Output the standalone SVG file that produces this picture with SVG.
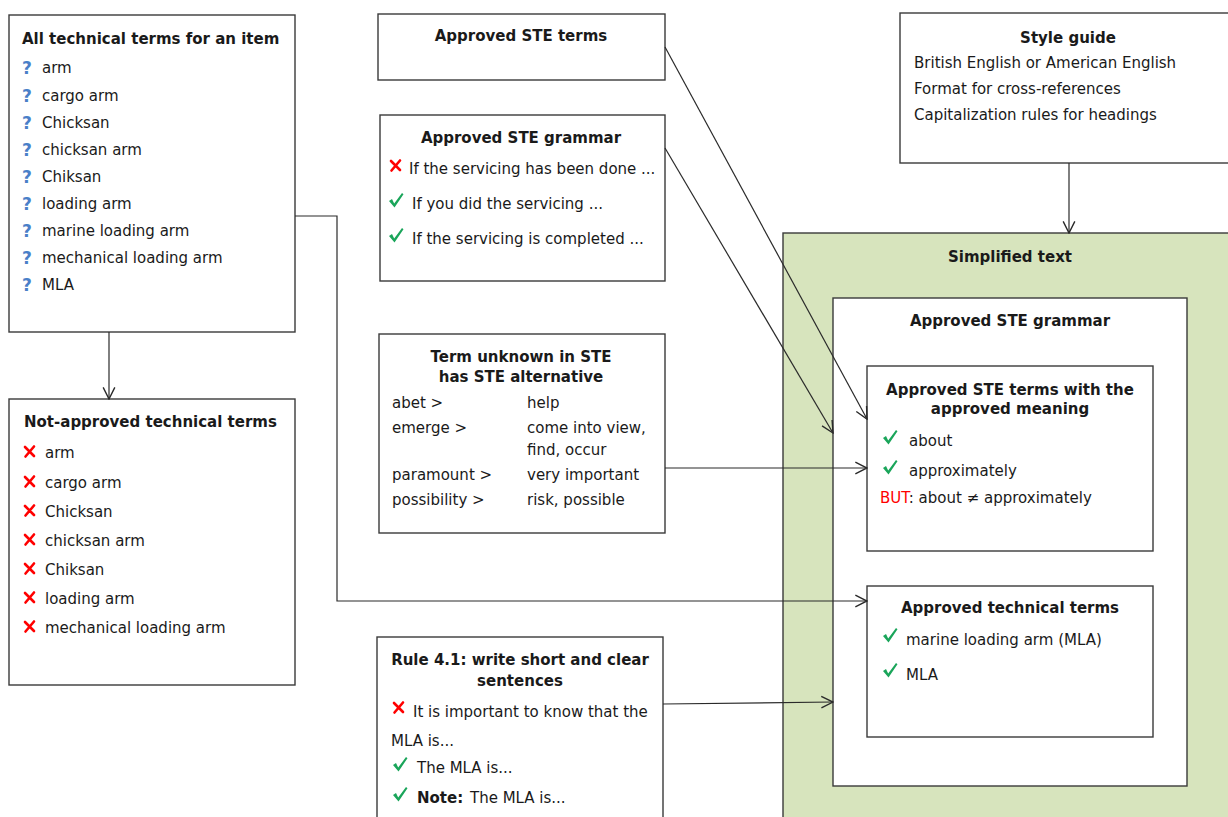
<svg xmlns="http://www.w3.org/2000/svg" xmlns:xlink="http://www.w3.org/1999/xlink" width="1228" height="817" viewBox="0 0 1228 817">
<style>
  .box { fill: #ffffff; stroke: #3a3a3a; stroke-width: 1.4; }
  .green { fill: #d7e4bd; stroke: #3a3a3a; stroke-width: 1.4; }
  text { font-family: "DejaVu Sans", Verdana, sans-serif; font-size: 15px; fill: #1a1a1a; }
  .b { font-weight: bold; }
  .c { text-anchor: middle; }
  .q { font-weight: bold; fill: #4a7fc8; font-size: 17px; }
  .red { fill: #ff0000; }
  .conn { fill: none; stroke: #2a2a2a; stroke-width: 1.2; }
</style>
<defs>
  <marker id="arr" markerUnits="userSpaceOnUse" markerWidth="14" markerHeight="14" viewBox="0 0 12 12" refX="11" refY="6" orient="auto">
    <path d="M1,1 L11,6 L1,11" fill="none" stroke="#2a2a2a" stroke-width="1.2"/>
  </marker>
  <g id="chk">
    <path d="M0,8 L3,6 L5.2,10.5 L13,0 L14.5,1.2 L5.5,14.5 Z" fill="#1aa55a"/>
  </g>
  <g id="crs">
    <path d="M1,1 L10,10 M10,0.5 L1.5,10.5" stroke="#ff0000" stroke-width="2.6" stroke-linecap="round" fill="none"/>
  </g>
</defs>

<g id="simplified">
  <rect class="green" x="783" y="233" width="460" height="600"/>
  <text class="b c" x="1010" y="262">Simplified text</text>
</g>
<g id="grammar-inner">
  <rect class="box" x="833" y="298" width="354" height="488"/>
  <text class="b c" x="1010" y="326">Approved STE grammar</text>
</g>
<g id="terms-meaning">
  <rect class="box" x="867" y="366" width="286" height="185"/>
  <text class="b c" x="1010" y="395">Approved STE terms with the</text>
  <text class="b c" x="1010" y="414">approved meaning</text>
  <use xlink:href="#chk" x="883" y="430"/>
  <text x="909" y="446">about</text>
  <use xlink:href="#chk" x="883" y="460"/>
  <text x="909" y="476">approximately</text>
  <text x="880" y="503"><tspan class="red">BUT</tspan>: about ≠ approximately</text>
</g>
<g id="tech-terms">
  <rect class="box" x="867" y="586" width="286" height="151"/>
  <text class="b c" x="1010" y="613">Approved technical terms</text>
  <use xlink:href="#chk" x="883" y="628"/>
  <text x="906" y="645">marine loading arm (MLA)</text>
  <use xlink:href="#chk" x="883" y="663"/>
  <text x="906" y="680">MLA</text>
</g>

<g id="all-terms">
  <rect class="box" x="9" y="15" width="286" height="317"/>
  <text class="b" x="22" y="44">All technical terms for an item</text>
  <text class="q" x="22" y="74">?</text><text x="42" y="73">arm</text>
  <text class="q" x="22" y="102">?</text><text x="42" y="101">cargo arm</text>
  <text class="q" x="22" y="129">?</text><text x="42" y="128">Chicksan</text>
  <text class="q" x="22" y="156">?</text><text x="42" y="155">chicksan arm</text>
  <text class="q" x="22" y="183">?</text><text x="42" y="182">Chiksan</text>
  <text class="q" x="22" y="210">?</text><text x="42" y="209">loading arm</text>
  <text class="q" x="22" y="237">?</text><text x="42" y="236">marine loading arm</text>
  <text class="q" x="22" y="264">?</text><text x="42" y="263">mechanical loading arm</text>
  <text class="q" x="22" y="291">?</text><text x="42" y="290">MLA</text>
</g>

<g id="not-approved">
  <rect class="box" x="9" y="399" width="286" height="286"/>
  <text class="b" x="24" y="427">Not-approved technical terms</text>
  <use xlink:href="#crs" x="24" y="446"/><text x="45" y="458">arm</text>
  <use xlink:href="#crs" x="24" y="476"/><text x="45" y="488">cargo arm</text>
  <use xlink:href="#crs" x="24" y="505"/><text x="45" y="517">Chicksan</text>
  <use xlink:href="#crs" x="24" y="534"/><text x="45" y="546">chicksan arm</text>
  <use xlink:href="#crs" x="24" y="563"/><text x="45" y="575">Chiksan</text>
  <use xlink:href="#crs" x="24" y="592"/><text x="45" y="604">loading arm</text>
  <use xlink:href="#crs" x="24" y="621"/><text x="45" y="633">mechanical loading arm</text>
</g>

<g id="ste-terms">
  <rect class="box" x="378" y="14" width="287" height="66"/>
  <text class="b c" x="521" y="41">Approved STE terms</text>
</g>

<g id="ste-grammar">
  <rect class="box" x="380" y="115" width="285" height="166"/>
  <text class="b c" x="521" y="143">Approved STE grammar</text>
  <use xlink:href="#crs" x="390" y="160"/>
  <text x="409" y="174">If the servicing has been done ...</text>
  <use xlink:href="#chk" x="389" y="193"/>
  <text x="412" y="209">If you did the servicing ...</text>
  <use xlink:href="#chk" x="389" y="228"/>
  <text x="412" y="244">If the servicing is completed ...</text>
</g>

<g id="term-unknown">
  <rect class="box" x="379" y="334" width="286" height="199"/>
  <text class="b c" x="521" y="362">Term unknown in STE</text>
  <text class="b c" x="521" y="382">has STE alternative</text>
  <text x="392" y="408">abet &gt;</text><text x="527" y="408">help</text>
  <text x="392" y="433">emerge &gt;</text><text x="527" y="433">come into view,</text>
  <text x="527" y="455">find, occur</text>
  <text x="392" y="480">paramount &gt;</text><text x="527" y="480">very important</text>
  <text x="392" y="505">possibility &gt;</text><text x="527" y="505">risk, possible</text>
</g>

<g id="rule">
  <rect class="box" x="377" y="637" width="286" height="200"/>
  <text class="b c" x="520" y="665">Rule 4.1: write short and clear</text>
  <text class="b c" x="520" y="686">sentences</text>
  <use xlink:href="#crs" x="393" y="702"/>
  <text x="413" y="717">It is important to know that the</text>
  <text x="391" y="746">MLA is...</text>
  <use xlink:href="#chk" x="393" y="757"/>
  <text x="417" y="773">The MLA is...</text>
  <use xlink:href="#chk" x="393" y="787"/>
  <text x="417" y="803"><tspan class="b">Note:</tspan><tspan x="470">The MLA is...</tspan></text>
</g>

<g id="style-guide">
  <rect class="box" x="900" y="13" width="340" height="150"/>
  <text class="b c" x="1068" y="43">Style guide</text>
  <text x="914" y="68">British English or American English</text>
  <text x="914" y="94">Format for cross-references</text>
  <text x="914" y="120">Capitalization rules for headings</text>
</g>

<g id="connectors">
  <line class="conn" x1="109" y1="332" x2="109" y2="399" marker-end="url(#arr)"/>
  <polyline class="conn" points="295,216 337,216 337,601 867,601" marker-end="url(#arr)"/>
  <line class="conn" x1="665" y1="47" x2="867" y2="419" marker-end="url(#arr)"/>
  <line class="conn" x1="665" y1="148" x2="833" y2="433" marker-end="url(#arr)"/>
  <line class="conn" x1="665" y1="468" x2="867" y2="468" marker-end="url(#arr)"/>
  <line class="conn" x1="663" y1="704" x2="833" y2="702" marker-end="url(#arr)"/>
  <line class="conn" x1="1069" y1="163" x2="1069" y2="233" marker-end="url(#arr)"/>
</g>
</svg>
